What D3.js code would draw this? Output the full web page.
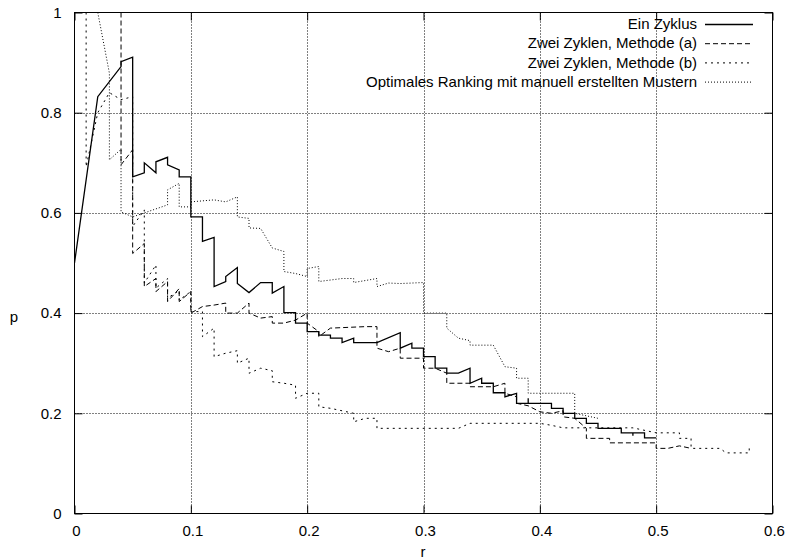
<!DOCTYPE html>
<html>
<head>
<meta charset="utf-8">
<script src="https://cdn.jsdelivr.net/npm/d3@7"></script>
<style>
	body { margin: 0; background: #fff; }
	svg { font-family: "Liberation Sans", Arial, sans-serif; font-size: 15px; }
</style>
</head>
<body>
<script>

// series names (legend order)
var seriesNames = [
	"Ein Zyklus",
	"Zwei Zyklen, Methode (a)",
	"Zwei Zyklen, Methode (b)",
	"Optimales Ranking mit manuell erstellten Mustern"
];

// tick values
var xTicks = [0, 0.1, 0.2, 0.3, 0.4, 0.5, 0.6];
var yTicks = [0, 0.2, 0.4, 0.6, 0.8, 1];

// [r, p] points
var einZyklus = [
	[0, 0.5], [0.02, 0.832], [0.04, 0.892], [0.04, 0.902], [0.05, 0.911], [0.05, 0.672],
	[0.06, 0.680], [0.06, 0.700], [0.07, 0.680], [0.07, 0.702], [0.08, 0.711], [0.08, 0.696],
	[0.09, 0.686], [0.09, 0.672], [0.10, 0.672], [0.10, 0.592], [0.11, 0.592], [0.11, 0.543],
	[0.12, 0.551], [0.12, 0.453], [0.13, 0.463], [0.13, 0.473], [0.14, 0.491], [0.14, 0.459],
	[0.15, 0.441], [0.16, 0.461], [0.17, 0.461], [0.17, 0.440], [0.18, 0.453], [0.18, 0.401],
	[0.19, 0.401], [0.19, 0.380], [0.20, 0.380], [0.20, 0.363], [0.21, 0.363], [0.21, 0.356],
	[0.22, 0.356], [0.22, 0.350], [0.23, 0.350], [0.23, 0.341], [0.24, 0.350], [0.24, 0.341],
	[0.26, 0.341], [0.28, 0.361], [0.28, 0.330], [0.29, 0.340], [0.29, 0.330], [0.30, 0.330],
	[0.30, 0.313], [0.31, 0.313], [0.31, 0.290], [0.32, 0.290], [0.32, 0.280], [0.33, 0.280],
	[0.34, 0.290], [0.34, 0.260], [0.35, 0.270], [0.35, 0.260], [0.36, 0.260], [0.36, 0.241],
	[0.37, 0.241], [0.37, 0.233], [0.38, 0.240], [0.38, 0.220], [0.39, 0.220], [0.39, 0.230],
	[0.39, 0.220], [0.41, 0.220], [0.41, 0.210], [0.42, 0.210], [0.42, 0.200], [0.43, 0.200],
	[0.43, 0.190], [0.44, 0.190], [0.44, 0.180], [0.45, 0.180], [0.45, 0.170], [0.47, 0.170],
	[0.47, 0.161], [0.48, 0.161], [0.48, 0.155], [0.48, 0.161], [0.49, 0.161], [0.49, 0.151],
	[0.50, 0.151]
];

var methodeA = [
	[0.04, 1.0], [0.04, 0.696], [0.05, 0.726], [0.05, 0.519], [0.06, 0.539], [0.06, 0.453],
	[0.07, 0.469], [0.07, 0.443], [0.08, 0.463], [0.08, 0.423], [0.09, 0.449], [0.09, 0.423],
	[0.10, 0.443], [0.10, 0.400], [0.11, 0.413], [0.12, 0.416], [0.13, 0.420], [0.13, 0.400],
	[0.14, 0.400], [0.15, 0.420], [0.15, 0.400], [0.16, 0.390], [0.17, 0.393], [0.17, 0.380],
	[0.18, 0.380], [0.19, 0.386], [0.20, 0.400], [0.20, 0.380], [0.21, 0.363], [0.21, 0.353],
	[0.22, 0.370], [0.25, 0.373], [0.26, 0.373], [0.26, 0.330], [0.27, 0.323], [0.28, 0.330],
	[0.28, 0.310], [0.30, 0.310], [0.30, 0.290], [0.31, 0.290], [0.32, 0.280], [0.32, 0.260],
	[0.34, 0.260], [0.34, 0.253], [0.36, 0.253], [0.37, 0.260], [0.37, 0.240], [0.38, 0.233],
	[0.38, 0.220], [0.39, 0.215], [0.40, 0.203], [0.41, 0.200], [0.42, 0.205], [0.42, 0.193],
	[0.43, 0.190], [0.44, 0.170], [0.44, 0.150], [0.46, 0.150], [0.46, 0.141], [0.50, 0.141],
	[0.50, 0.130], [0.51, 0.130], [0.52, 0.135], [0.53, 0.130]
];

var methodeB = [
	[0.01, 1.0], [0.01, 0.692], [0.02, 0.800], [0.03, 0.840], [0.04, 0.826], [0.05, 0.832],
	[0.05, 0.573], [0.06, 0.606], [0.06, 0.460], [0.07, 0.496], [0.07, 0.450], [0.08, 0.469],
	[0.08, 0.430], [0.09, 0.445], [0.09, 0.426], [0.10, 0.443], [0.10, 0.403], [0.11, 0.403],
	[0.11, 0.353], [0.12, 0.370], [0.12, 0.313], [0.13, 0.320], [0.14, 0.325], [0.14, 0.300],
	[0.15, 0.310], [0.15, 0.280], [0.16, 0.290], [0.17, 0.285], [0.17, 0.263], [0.18, 0.260],
	[0.19, 0.256], [0.19, 0.230], [0.20, 0.240], [0.21, 0.240], [0.21, 0.213], [0.22, 0.210],
	[0.23, 0.205], [0.24, 0.200], [0.24, 0.183], [0.25, 0.190], [0.26, 0.190], [0.26, 0.170],
	[0.33, 0.170], [0.34, 0.180], [0.40, 0.180], [0.41, 0.176], [0.42, 0.171], [0.48, 0.171],
	[0.50, 0.161], [0.52, 0.161], [0.52, 0.150], [0.53, 0.150], [0.53, 0.130], [0.555, 0.130],
	[0.56, 0.121], [0.58, 0.121], [0.58, 0.130]
];

var optimal = [
	[0.02, 1.0], [0.03, 0.879], [0.03, 0.706], [0.04, 0.727], [0.04, 0.602], [0.05, 0.592],
	[0.08, 0.616], [0.08, 0.646], [0.09, 0.659], [0.09, 0.612], [0.10, 0.612], [0.10, 0.622],
	[0.12, 0.626], [0.13, 0.622], [0.14, 0.632], [0.14, 0.592], [0.15, 0.589], [0.15, 0.570],
	[0.16, 0.569], [0.17, 0.530], [0.18, 0.523], [0.18, 0.483], [0.19, 0.479], [0.20, 0.473],
	[0.20, 0.489], [0.21, 0.493], [0.21, 0.463], [0.23, 0.469], [0.24, 0.469], [0.24, 0.461],
	[0.26, 0.469], [0.26, 0.453], [0.27, 0.460], [0.28, 0.459], [0.30, 0.461], [0.30, 0.400],
	[0.32, 0.400], [0.32, 0.370], [0.33, 0.350], [0.34, 0.345], [0.34, 0.336], [0.36, 0.336],
	[0.37, 0.293], [0.38, 0.290], [0.38, 0.270], [0.39, 0.270], [0.39, 0.240], [0.43, 0.240],
	[0.43, 0.200], [0.45, 0.190]
];

// basic variables
var width = 788,
	height = 560,
	plotLeft = 74.5,
	plotRight = 772.5,
	plotTop = 12.5,
	plotBottom = 513.5,
	tick = 8;

var series = [einZyklus, methodeA, methodeB, optimal];
var dashes = ["none", "5,3", "2,4", "1,2"];
var widths = [1.3, 1, 1, 1];

var svg = d3.select("body")
	.append("svg")
		.attr("width", width)
		.attr("height", height);

// scales
var x = d3.scaleLinear()
	.domain([0, 0.6])
	.range([plotLeft, plotRight]);

var y = d3.scaleLinear()
	.domain([0, 1])
	.range([plotBottom, plotTop]);

var fmt = d3.format("~g");

// dotted grid
svg.append("g")
	.selectAll("line")
	.data(xTicks.slice(1, -1))
	.enter()
	.append("line")
		.attr("x1", function(d) { return Math.round(x(d)) + 0.5; })
		.attr("x2", function(d) { return Math.round(x(d)) + 0.5; })
		.attr("y1", plotTop)
		.attr("y2", plotBottom)
		.attr("stroke", "#000")
		.attr("stroke-dasharray", "1,2");

svg.append("g")
	.selectAll("line")
	.data(yTicks.slice(1, -1))
	.enter()
	.append("line")
		.attr("y1", function(d) { return Math.round(y(d)) + 0.5; })
		.attr("y2", function(d) { return Math.round(y(d)) + 0.5; })
		.attr("x1", plotLeft)
		.attr("x2", plotRight)
		.attr("stroke", "#000")
		.attr("stroke-dasharray", "1,2");

// axes with inward ticks, mirrored on top and right
var xAxis = d3.axisBottom(x).tickValues(xTicks).tickFormat(fmt).tickSizeInner(-tick).tickSizeOuter(0).tickPadding(12);
var yAxis = d3.axisLeft(y).tickValues(yTicks).tickFormat(fmt).tickSizeInner(-tick).tickSizeOuter(0).tickPadding(13);
var xTop = d3.axisTop(x).tickValues(xTicks).tickFormat("").tickSizeInner(-tick).tickSizeOuter(0);
var yRight = d3.axisRight(y).tickValues(yTicks).tickFormat("").tickSizeInner(-tick).tickSizeOuter(0);

function styleAxis(g) {
	g.select(".domain").remove();
	g.selectAll("text")
		.attr("fill", "#000")
		.style("font-family", "'Liberation Sans', Arial, sans-serif")
		.style("font-size", "15px");
	g.selectAll("line").attr("stroke", "#000");
}

svg.append("g")
	.attr("transform", "translate(0," + plotBottom + ")")
	.call(xAxis)
	.call(styleAxis)
	.selectAll("text")
		.attr("dx", "1.5");

svg.append("g")
	.attr("transform", "translate(" + plotLeft + ",0)")
	.call(yAxis)
	.call(styleAxis);

svg.append("g")
	.attr("transform", "translate(0," + plotTop + ")")
	.call(xTop)
	.call(styleAxis);

svg.append("g")
	.attr("transform", "translate(" + plotRight + ",0)")
	.call(yRight)
	.call(styleAxis);

// curves
var line = d3.line()
	.x(function(d) { return x(d[0]); })
	.y(function(d) { return y(d[1]); });

svg.append("defs")
	.append("clipPath")
		.attr("id", "plot")
	.append("rect")
		.attr("x", plotLeft)
		.attr("y", plotTop)
		.attr("width", plotRight - plotLeft)
		.attr("height", plotBottom - plotTop);

svg.append("g")
	.attr("clip-path", "url(#plot)")
	.selectAll("path")
	.data(series)
	.enter()
	.append("path")
		.attr("d", line)
		.attr("fill", "none")
		.attr("stroke", "#000")
		.attr("stroke-width", function(d, i) { return widths[i]; })
		.attr("stroke-dasharray", function(d, i) { return dashes[i]; });

// frame
svg.append("rect")
	.attr("x", plotLeft)
	.attr("y", plotTop)
	.attr("width", plotRight - plotLeft)
	.attr("height", plotBottom - plotTop)
	.attr("fill", "none")
	.attr("stroke", "#000");

// legend
var legend = svg.append("g")
	.selectAll("g")
	.data(seriesNames)
	.enter()
	.append("g")
		.attr("transform", function(d, i) { return "translate(0," + (24 + i * 19.2) + ")"; });

legend.append("text")
	.attr("x", 697)
	.attr("dy", "0.35em")
	.attr("text-anchor", "end")
	.text(function(d) { return d; });

legend.append("line")
	.attr("x1", 705)
	.attr("x2", 753)
	.attr("y1", 0.5)
	.attr("y2", 0.5)
	.attr("stroke", "#000")
	.attr("stroke-width", function(d, i) { return widths[i]; })
	.attr("stroke-dasharray", function(d, i) { return dashes[i]; });

// axis labels
svg.append("text")
	.attr("x", 423)
	.attr("y", 557)
	.attr("text-anchor", "middle")
	.text("r");

svg.append("text")
	.attr("x", 14)
	.attr("y", 322)
	.attr("text-anchor", "middle")
	.text("p");

</script>
</body>
</html>
